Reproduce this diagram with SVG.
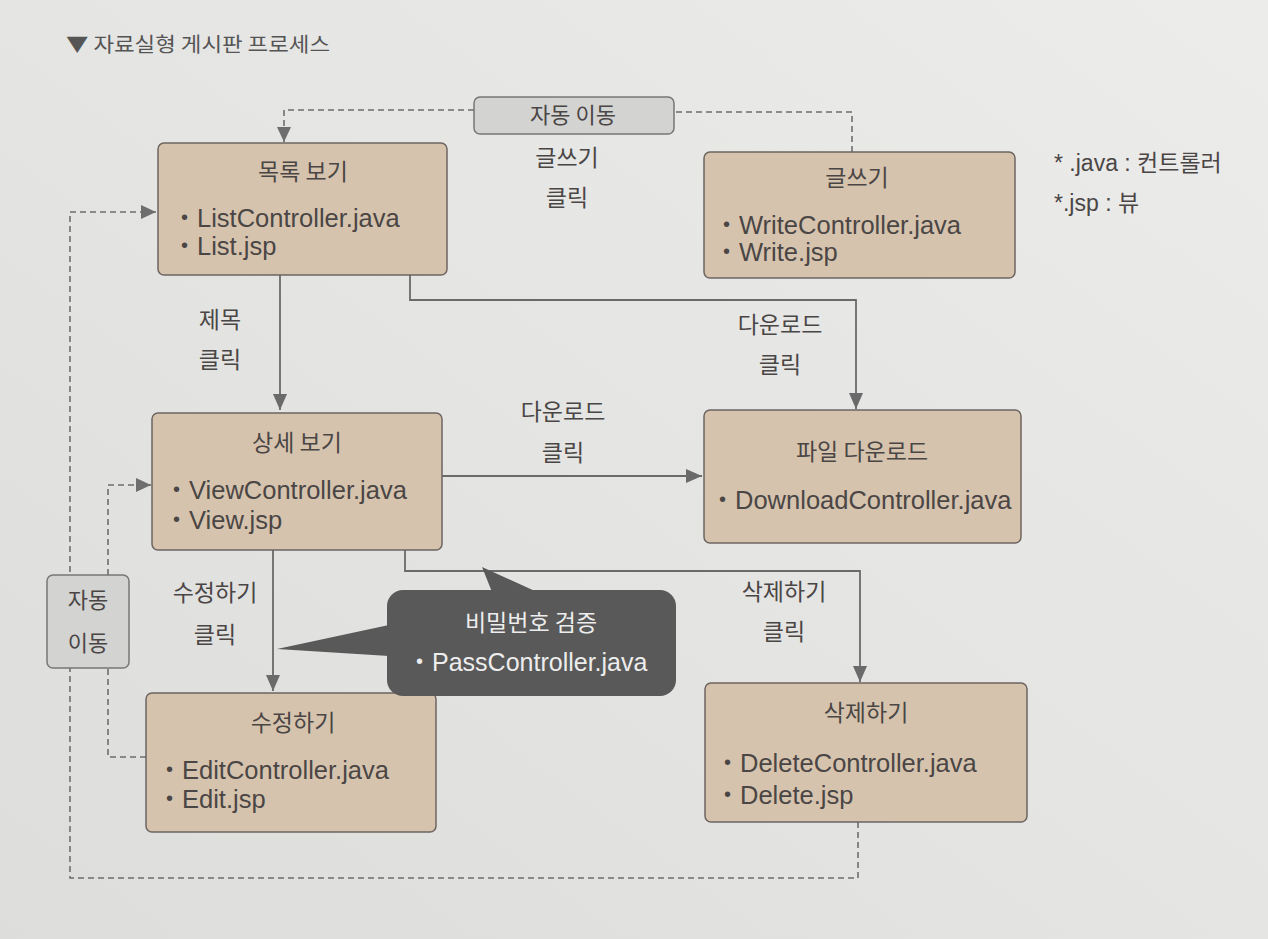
<svg xmlns="http://www.w3.org/2000/svg" width="1268" height="939" viewBox="0 0 1268 939">
<defs>
<linearGradient id="bg" x1="1" y1="0" x2="0" y2="1">
<stop offset="0" stop-color="#ececeb"/>
<stop offset="1" stop-color="#dddddc"/>
</linearGradient>
<marker id="ah" markerUnits="userSpaceOnUse" markerWidth="16" markerHeight="14" refX="16" refY="7" orient="auto">
<path d="M0,0 L16,7 L0,14 z" fill="#6a6a6a"/>
</marker>
<marker id="ahd" markerUnits="userSpaceOnUse" markerWidth="15" markerHeight="14" refX="15" refY="7" orient="auto">
<path d="M0,0 L15,7 L0,14 z" fill="#6e6e6e"/>
</marker>
<style>
.box{fill:#d6c3ad;stroke:#6e6560;stroke-width:1.5}
.gbox{fill:#d3d3d2;stroke:#777;stroke-width:1.5}
.t{font-family:"Liberation Sans","Noto Sans CJK KR",sans-serif;fill:#4a4645}
.ko{font-family:"Noto Sans CJK KR","Liberation Sans",sans-serif;font-size:23px}
.en{font-size:25.5px}
.b{font-size:20px}
.c{text-anchor:middle}
.solid{fill:none;stroke:#6a6a6a;stroke-width:1.8}
.dash{fill:none;stroke:#6e6e6e;stroke-width:1.6;stroke-dasharray:6 4}
.w{fill:#ededed}
</style>
</defs>
<rect x="0" y="0" width="1268" height="939" fill="url(#bg)"/>
<text class="t" x="66" y="52" textLength="264" lengthAdjust="spacingAndGlyphs" style="font-family:'Noto Sans CJK KR','Liberation Sans',sans-serif;font-size:20px;fill:#555">▼ 자료실형 게시판 프로세스</text>

<g id="connectors">
<path class="solid" d="M280,275 V410" marker-end="url(#ah)"/>
<path class="solid" d="M410,275 V300 H856 V409" marker-end="url(#ah)"/>
<path class="solid" d="M442,476 H702" marker-end="url(#ah)"/>
<path class="solid" d="M273,550 V691" marker-end="url(#ah)"/>
<path class="solid" d="M405,550 V571 H860 V682" marker-end="url(#ah)"/>
<path class="dash" d="M852,152 V112 H674"/>
<path class="dash" d="M474,110 H284 V142" marker-end="url(#ahd)"/>
<path class="dash" d="M858,822 V878 H70 V212 H156" marker-end="url(#ahd)"/>
<path class="dash" d="M146,757 H108 V485 H151" marker-end="url(#ahd)"/>
<text class="t ko c" x="220" y="328">제목</text>
<text class="t ko c" x="220" y="368">클릭</text>
<text class="t ko c" x="567" y="166">글쓰기</text>
<text class="t ko c" x="567" y="206">클릭</text>
<text class="t ko c" x="780" y="333">다운로드</text>
<text class="t ko c" x="780" y="373">클릭</text>
<text class="t ko c" x="563" y="420">다운로드</text>
<text class="t ko c" x="563" y="461">클릭</text>
<text class="t ko c" x="215" y="601">수정하기</text>
<text class="t ko c" x="215" y="643">클릭</text>
<text class="t ko c" x="784" y="600">삭제하기</text>
<text class="t ko c" x="784" y="640">클릭</text>
</g>

<g id="auto-top">
<rect class="gbox" x="474" y="97" width="200" height="37" rx="6"/>
<text class="t c" x="573" y="123" style="font-family:'Noto Sans CJK KR',sans-serif;font-size:22px">자동 이동</text>
</g>

<g id="auto-left">
<rect class="gbox" x="47" y="575" width="82" height="93" rx="6"/>
<text class="t c" x="88" y="608" style="font-family:'Noto Sans CJK KR',sans-serif;font-size:22px">자동</text>
<text class="t c" x="88" y="651" style="font-family:'Noto Sans CJK KR',sans-serif;font-size:22px">이동</text>
</g>

<g id="list">
<rect class="box" x="158" y="143" width="289" height="132" rx="6"/>
<text class="t ko c" x="303" y="180">목록 보기</text>
<text class="t en" x="181" y="227"><tspan class="b" dy="-3">•</tspan><tspan dx="9" dy="3">ListController.java</tspan></text>
<text class="t en" x="181" y="255"><tspan class="b" dy="-3">•</tspan><tspan dx="9" dy="3">List.jsp</tspan></text>
</g>

<g id="write">
<rect class="box" x="704" y="152" width="311" height="126" rx="6"/>
<text class="t ko c" x="857" y="186">글쓰기</text>
<text class="t en" x="723" y="234"><tspan class="b" dy="-3">•</tspan><tspan dx="9" dy="3">WriteController.java</tspan></text>
<text class="t en" x="723" y="261"><tspan class="b" dy="-3">•</tspan><tspan dx="9" dy="3">Write.jsp</tspan></text>
</g>

<g id="legend">
<text class="t" x="1054" y="171" style="font-size:23px">* .java : 컨트롤러</text>
<text class="t" x="1054" y="211" style="font-size:23px">*.jsp : 뷰</text>
</g>

<g id="view">
<rect class="box" x="152" y="413" width="290" height="137" rx="6"/>
<text class="t ko c" x="297" y="451">상세 보기</text>
<text class="t en" x="173" y="499"><tspan class="b" dy="-3">•</tspan><tspan dx="9" dy="3">ViewController.java</tspan></text>
<text class="t en" x="173" y="529"><tspan class="b" dy="-3">•</tspan><tspan dx="9" dy="3">View.jsp</tspan></text>
</g>

<g id="download">
<rect class="box" x="704" y="410" width="317" height="133" rx="6"/>
<text class="t ko c" x="862" y="460">파일 다운로드</text>
<text class="t en" x="719" y="509"><tspan class="b" dy="-3">•</tspan><tspan dx="9" dy="3">DownloadController.java</tspan></text>
</g>

<g id="edit">
<rect class="box" x="146" y="693" width="290" height="139" rx="6"/>
<text class="t ko c" x="293" y="731">수정하기</text>
<text class="t en" x="166" y="779"><tspan class="b" dy="-3">•</tspan><tspan dx="9" dy="3">EditController.java</tspan></text>
<text class="t en" x="166" y="808"><tspan class="b" dy="-3">•</tspan><tspan dx="9" dy="3">Edit.jsp</tspan></text>
</g>

<g id="delete">
<rect class="box" x="705" y="683" width="322" height="139" rx="6"/>
<text class="t ko c" x="866" y="721">삭제하기</text>
<text class="t en" x="724" y="772"><tspan class="b" dy="-3">•</tspan><tspan dx="9" dy="3">DeleteController.java</tspan></text>
<text class="t en" x="724" y="804"><tspan class="b" dy="-3">•</tspan><tspan dx="9" dy="3">Delete.jsp</tspan></text>
</g>

<g id="pass-callout">
<path d="M492,592 L482,567 L537,592 z" fill="#595959"/>
<path d="M389,625 L277,649 L389,656 z" fill="#595959"/>
<rect x="387" y="590" width="289" height="106" rx="16" fill="#595959"/>
<text class="t ko c w" x="531" y="631">비밀번호 검증</text>
<text class="t en w" x="416" y="671" style="font-size:25px"><tspan class="b" dy="-3">•</tspan><tspan dx="9" dy="3">PassController.java</tspan></text>
</g>
</svg>
